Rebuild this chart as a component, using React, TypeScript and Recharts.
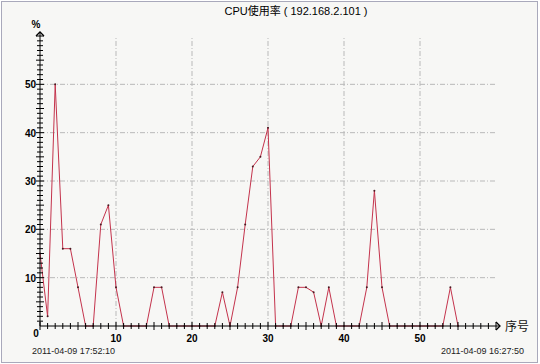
import { LineChart, Line, XAxis, YAxis, ReferenceLine } from 'recharts';

const SEQ = [
  0, 1, 2, 3, 4, 5, 6, 7, 8, 9, 10, 11, 12, 13, 14, 15, 16, 17, 18, 19,
  20, 21, 22, 23, 24, 25, 26, 27, 28, 29, 30, 31, 32, 33, 34, 35, 36, 37, 38, 39,
  40, 41, 42, 43, 44, 45, 46, 47, 48, 49, 50, 51, 52, 53, 54, 55,
];
const CPU = [
  15, 2, 50, 16, 16, 8, 0, 0, 21, 25, 8, 0, 0, 0, 0, 8, 8, 0, 0, 0,
  0, 0, 0, 0, 7, 0, 8, 21, 33, 35, 41, 0, 0, 0, 8, 8, 7, 0, 8, 0,
  0, 0, 0, 8, 28, 8, 0, 0, 0, 0, 0, 0, 0, 0, 8, 0,
];
const AXIS_TICKS = [
  0, 1, 2, 3, 4, 5, 6, 7, 8, 9, 10, 11, 12, 13, 14, 15, 16, 17, 18, 19,
  20, 21, 22, 23, 24, 25, 26, 27, 28, 29, 30, 31, 32, 33, 34, 35, 36, 37, 38, 39,
  40, 41, 42, 43, 44, 45, 46, 47, 48, 49, 50, 51, 52, 53, 54, 55, 56, 57, 58, 59, 60,
];
const GRID_VALUES = [10, 20, 30, 40, 50];
const TITLE = 'CPU使用率 ( 192.168.2.101 )';
const START_TIME = '2011-04-09 17:52:10';
const END_TIME = '2011-04-09 16:27:50';

const data = SEQ.map((x, i) => ({ x, cpu: CPU[i] }));

const FONT = '"Liberation Sans", Arial, "Noto Sans CJK SC", sans-serif';
const GRID = '#b9b9b9';
const LINE = '#c4334c';

function XTick(props: any) {
  const { x, y, payload } = props;
  const v = payload.value;
  const h = v % 5 === 0 ? 4 : 3;
  return (
    <g>
      <line x1={x} y1={y - h} x2={x} y2={y + h} stroke="#000" />
      {v === 0 && (
        <text x={x - 4} y={y + 11} textAnchor="middle" fontSize={10} fontWeight="bold" fontFamily={FONT}>0</text>
      )}
      {v > 0 && v % 10 === 0 && v < 60 && (
        <text x={x} y={y + 16} textAnchor="middle" fontSize={10} fontWeight="bold" fontFamily={FONT}>{v}</text>
      )}
      {v === 60 && (
        <g>
          <line x1={x} y1={y} x2={x + 4} y2={y} stroke="#000" />
          <path d={`M${x},${y - 4} L${x + 4},${y} L${x},${y + 4}`} stroke="#000" fill="none" strokeWidth={1.3} />
        </g>
      )}
    </g>
  );
}

function YTick(props: any) {
  const { x, y, payload } = props;
  const v = payload.value;
  const h = v % 5 === 0 ? 4 : 3;
  return (
    <g>
      {v > 0 && <line x1={x - h} y1={y} x2={x + h} y2={y} stroke="#000" />}
      {v > 0 && v % 10 === 0 && v < 60 && (
        <text x={x - 4} y={y + 4} textAnchor="end" fontSize={10} fontWeight="bold" fontFamily={FONT}>{v}</text>
      )}
      {v === 60 && (
        <g>
          <line x1={x} y1={y} x2={x} y2={y - 4} stroke="#000" />
          <path d={`M${x - 4},${y} L${x},${y - 4} L${x + 4},${y}`} stroke="#000" fill="none" strokeWidth={1.3} />
        </g>
      )}
    </g>
  );
}

export default function App() {
  return (
    <div style={{ position: 'absolute', left: 0, top: 0, width: 540, height: 364, background: '#fff' }}>
      <div style={{
        position: 'absolute', left: 1, top: 1, width: 535, height: 360,
        border: '1px solid #a9a9bb', background: '#f7f7f5',
      }} />
      <div style={{ position: 'absolute', left: 0, top: 0 }}>
        <LineChart width={540} height={364} data={data} margin={{ top: 36, right: 44, bottom: 8, left: 0 }}>
          <text x={296} y={15} textAnchor="middle" fontSize={11} fontFamily={FONT} fill="#000">{TITLE}</text>
          <text x={36} y={28} textAnchor="middle" fontSize={10} fontWeight="bold" fontFamily={FONT}>%</text>
          <text x={505} y={331} fontSize={12} fontFamily={FONT} fill="#111">序号</text>
          <text x={32} y={354} fontSize={9} fontFamily={FONT} fill="#222">{START_TIME}</text>
          <text x={524} y={354} textAnchor="end" fontSize={9} fontFamily={FONT} fill="#222">{END_TIME}</text>
          {GRID_VALUES.map(v => (
            <ReferenceLine key={'h' + v} y={v} stroke={GRID} strokeDasharray="5 2 1 2" />
          ))}
          {GRID_VALUES.map(v => (
            <ReferenceLine key={'v' + v} x={v} stroke={GRID} strokeDasharray="5 2 1 2" />
          ))}
          <XAxis dataKey="x" type="number" domain={[0, 60]} ticks={AXIS_TICKS} interval={0}
                 height={30} tickSize={0} tickMargin={0} tickLine={false}
                 axisLine={{ stroke: '#000' }} tick={<XTick />} />
          <YAxis type="number" domain={[0, 60]} ticks={AXIS_TICKS} interval={0}
                 width={40} tickSize={0} tickMargin={0} tickLine={false}
                 axisLine={{ stroke: '#000' }} tick={<YTick />} />
          <Line type="linear" dataKey="cpu" stroke={LINE} strokeWidth={1}
                dot={{ r: 1, fill: '#4a1a22', stroke: 'none' }} isAnimationActive={false} />
        </LineChart>
      </div>
    </div>
  );
}
